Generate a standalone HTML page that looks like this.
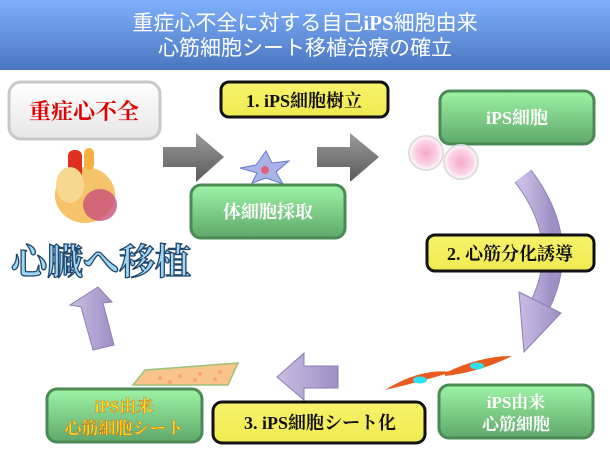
<!DOCTYPE html>
<html><head><meta charset="utf-8"><style>
html,body{margin:0;padding:0;background:#fff}
svg{display:block}
.b{font-family:"Liberation Serif","Noto Serif CJK SC",serif;font-weight:bold}
</style></head><body>
<svg width="610" height="470" viewBox="0 0 610 470" xmlns="http://www.w3.org/2000/svg">
<defs>
<linearGradient id="hd" x1="0" y1="0" x2="0" y2="1"><stop offset="0" stop-color="#7fb0fb"/><stop offset="1" stop-color="#4a76c0"/></linearGradient>
<linearGradient id="gr" x1="0" y1="0" x2="0" y2="1"><stop offset="0" stop-color="#9ef3a5"/><stop offset="1" stop-color="#5fa86a"/></linearGradient>
<linearGradient id="yl" x1="0" y1="0" x2="0" y2="1"><stop offset="0" stop-color="#f7f36a"/><stop offset="1" stop-color="#f0ea50"/></linearGradient>
<linearGradient id="wh" x1="0" y1="0" x2="0" y2="1"><stop offset="0" stop-color="#ffffff"/><stop offset="1" stop-color="#e6e6e6"/></linearGradient>
<linearGradient id="ga" x1="0" y1="0" x2="0" y2="1"><stop offset="0" stop-color="#9a9a9a"/><stop offset="1" stop-color="#5a5a5a"/></linearGradient>
<linearGradient id="pu" x1="0" y1="0" x2="1" y2="0"><stop offset="0" stop-color="#c9bde4"/><stop offset="1" stop-color="#9e8fc4"/></linearGradient>
<radialGradient id="pk"><stop offset="0" stop-color="#f7a9cf"/><stop offset="0.7" stop-color="#fbd3e6"/><stop offset="1" stop-color="#fff"/></radialGradient>
</defs>
<rect x="0" y="0" width="610" height="70" fill="url(#hd)"/>
<text x="305" y="30" text-anchor="middle" fill="#fff" font-size="21" font-family="Liberation Sans,'Noto Sans CJK JP',sans-serif">重症心不全に対する自己<tspan font-family="Liberation Serif,serif" font-weight="bold">iPS</tspan>細胞由来</text>
<text x="305" y="55" text-anchor="middle" fill="#fff" font-size="21" font-family="Liberation Sans,'Noto Sans CJK JP',sans-serif">心筋細胞シート移植治療の確立</text>

<rect x="9" y="82" width="151" height="57" rx="12" fill="url(#wh)" stroke="#c8c8c8" stroke-width="3"/>
<text x="84" y="119" text-anchor="middle" class="b" font-size="22" fill="#e00000">重症心不全</text>

<rect x="221" y="82" width="167" height="35" rx="8" fill="url(#yl)" stroke="#111" stroke-width="3"/>
<text x="304" y="107" text-anchor="middle" class="b" font-size="18" fill="#111">1. iPS細胞樹立</text>

<rect x="440" y="91" width="154" height="53" rx="10" fill="url(#gr)" stroke="#4c8a55" stroke-width="3"/>
<text x="517" y="124" text-anchor="middle" class="b" font-size="18" fill="#fff">iPS細胞</text>

<polygon points="163,147 196,147 196,133 224,157 196,182 196,167 163,167" fill="url(#ga)"/>
<polygon points="317,147 350,147 350,133 379,157 350,182 350,167 317,167" fill="url(#ga)"/>

<!-- heart -->
<g>
<ellipse cx="85" cy="195" rx="30" ry="28" fill="#f5c36a"/>
<ellipse cx="100" cy="205" rx="17" ry="16" fill="#c9507a" opacity="0.8"/>
<rect x="68" y="150" width="14" height="30" rx="6" fill="#e03020"/>
<rect x="84" y="148" width="10" height="22" rx="5" fill="#f5b040"/>
<ellipse cx="70" cy="185" rx="14" ry="18" fill="#f7d890"/>
</g>
<!-- star cell -->
<polygon points="240,168 256,165 266,151 272,163 289,161 276,172 283,184 266,178 252,183 257,173" fill="#a8b3e8" stroke="#6a78c8" stroke-width="1"/>
<circle cx="265" cy="170" r="4" fill="#e26080"/>
<!-- pink cells -->
<circle cx="426" cy="153" r="17" fill="url(#pk)" stroke="#ddd" stroke-width="2"/>
<circle cx="461" cy="162" r="17" fill="url(#pk)" stroke="#ddd" stroke-width="2"/>

<rect x="191" y="185" width="154" height="53" rx="10" fill="url(#gr)" stroke="#4c8a55" stroke-width="3"/>
<text x="268" y="218" text-anchor="middle" class="b" font-size="18" fill="#fff">体細胞採取</text>

<!-- curved arrow -->
<path d="M523,176 Q572,240 540,305" fill="none" stroke="#8c7fb4" stroke-width="21"/>
<path d="M523,176 Q572,240 540,305" fill="none" stroke="url(#pu)" stroke-width="19"/>
<polygon points="519,292 561,313 524,352" fill="url(#pu)" stroke="#8c7fb4" stroke-width="1"/>

<rect x="427" y="235" width="167" height="36" rx="8" fill="url(#yl)" stroke="#111" stroke-width="3"/>
<text x="510" y="260" text-anchor="middle" class="b" font-size="18" fill="#111">2. 心筋分化誘導</text>

<text x="11" y="274" class="b" font-size="36" fill="#9fd7f7" stroke="#23476b" stroke-width="1.3">心臓へ移植</text>

<polygon points="93,350 114,345 103,303 112,302 98,287 70,305 81,307" fill="url(#pu)" stroke="#8c7fb4" stroke-width="1"/>

<!-- sheet -->
<polygon points="145,370 238,363 228,385 133,385" fill="#f8c48c" stroke="#9ac27a" stroke-width="1.5"/>
<g fill="#f49a6a" opacity="0.7"><circle cx="160" cy="378" r="2"/><circle cx="180" cy="376" r="2"/><circle cx="200" cy="374" r="2"/><circle cx="220" cy="372" r="2"/><circle cx="170" cy="382" r="2"/><circle cx="195" cy="380" r="2"/><circle cx="215" cy="379" r="2"/></g>

<polygon points="338,366 304,366 304,353 277,377 304,400 304,388 338,388" fill="url(#pu)" stroke="#8c7fb4" stroke-width="1"/>

<!-- muscle cells -->
<path d="M385,390 Q420,368 452,372 Q420,382 385,390 Z" fill="#e85a1e"/>
<path d="M445,373 Q480,356 512,356 Q480,372 445,376 Z" fill="#e85a1e"/>
<ellipse cx="420" cy="380" rx="7" ry="3.5" fill="#30e0f0"/>
<ellipse cx="477" cy="366" rx="7" ry="3.5" fill="#30e0f0"/>

<rect x="47" y="389" width="155" height="53" rx="10" fill="url(#gr)" stroke="#4c8a55" stroke-width="3"/>
<text x="124" y="412" text-anchor="middle" class="b" font-size="17" fill="#ffe020" stroke="#e04000" stroke-width="0.3">iPS由来</text>
<text x="124" y="434" text-anchor="middle" class="b" font-size="17" fill="#ffe020" stroke="#e04000" stroke-width="0.3">心筋細胞シート</text>

<rect x="213" y="402" width="212" height="41" rx="9" fill="url(#yl)" stroke="#111" stroke-width="3"/>
<text x="320" y="429" text-anchor="middle" class="b" font-size="18" fill="#111">3. iPS細胞シート化</text>

<rect x="439" y="385" width="154" height="53" rx="10" fill="url(#gr)" stroke="#4c8a55" stroke-width="3"/>
<text x="516" y="408" text-anchor="middle" class="b" font-size="17" fill="#fff">iPS由来</text>
<text x="516" y="430" text-anchor="middle" class="b" font-size="17" fill="#fff">心筋細胞</text>
</svg>
</body></html>
